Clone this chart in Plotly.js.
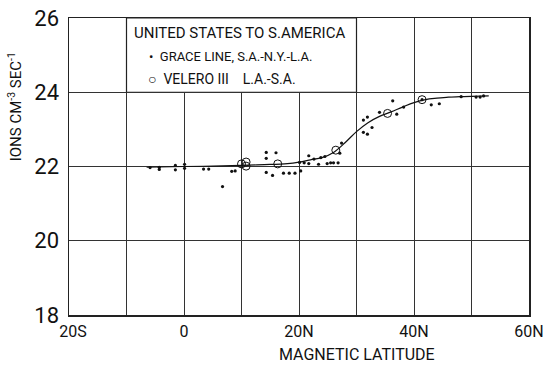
<!DOCTYPE html>
<html><head><meta charset="utf-8">
<script src="https://cdn.plot.ly/plotly-3.0.1.min.js"></script>
<style>html,body{margin:0;padding:0;background:#fff}#c{width:544px;height:366px}</style>
</head><body><div id="c"></div>
<script>
// Grace Line, S.A.-N.Y.-L.A. (small dots)
const graceLat = [-5.9,-4.3,-4.3,-1.5,-1.5,0.1,0.1,3.4,4.3,6.7,8.3,8.9,
  14.3,14.3,16.0,14.3,15.4,17.3,18.3,19.3,20.3,20.1,20.9,21.7,21.7,22.6,23.4,23.8,24.5,24.9,25.5,26.0,26.8,27.1,27.4,
  31.2,31.9,31.2,31.9,32.7,34.0,36.3,37.0,38.2,41.4,43.0,44.4,48.2,50.8,51.5,52.1];
const graceRate = [21.97,21.98,21.92,22.03,21.91,22.06,21.95,21.93,21.93,21.46,21.87,21.88,
  22.38,22.22,22.37,21.84,21.76,21.82,21.82,21.82,21.88,22.11,22.10,22.29,22.08,22.20,22.06,22.24,22.27,22.08,22.10,22.10,22.10,22.36,22.63,
  23.25,23.33,22.92,22.87,23.05,23.46,23.77,23.41,23.60,23.80,23.66,23.69,23.88,23.87,23.87,23.90];
// Velero III L.A.-S.A. (open circles)
const veleroLat = [10.0,10.8,10.8,16.3,26.4,35.4,41.4];
const veleroRate = [22.07,22.12,22.01,22.07,22.44,23.43,23.80];
// fitted curve
const curveLat = [-6.5,0,5,10,14,18,20,22,24,26,28,30,32,34,36,38,40,42,44,46,48,50,53];
const curveRate = [21.98,22.0,22.01,22.03,22.05,22.08,22.12,22.18,22.24,22.38,22.64,22.94,23.18,23.35,23.47,23.6,23.72,23.8,23.84,23.87,23.88,23.89,23.9];
// axis ticks
const xTickVals = [-20,-10,0,10,20,30,40,50,60];
const xTickText = ['\u00a0\u00a020S','','0','','20N','','40N','','60N'];
const yTickVals = [18,20,22,24,26];

const F = 'Roboto, "Liberation Sans", sans-serif';
const traces = [
  {x: curveLat, y: curveRate, mode: 'lines', line: {color: '#111', width: 1.2, shape: 'spline'}, hoverinfo: 'skip'},
  {x: graceLat, y: graceRate, mode: 'markers', marker: {color: '#111', size: 3.2}},
  {x: veleroLat, y: veleroRate, mode: 'markers', marker: {symbol: 'circle-open', color: '#111', size: 8, line: {width: 1}}}
];
const layout = {
  width: 544, height: 366,
  margin: {l: 69, r: 15, t: 18, b: 51},
  paper_bgcolor: '#fff', plot_bgcolor: '#fff',
  showlegend: false,
  font: {family: F, color: '#111'},
  xaxis: {range: [-20, 60], tickvals: xTickVals, ticktext: xTickText, showgrid: true, gridcolor: '#333', gridwidth: 1,
    zeroline: false, showline: true, linecolor: '#222', linewidth: 1.5, mirror: true, ticks: '',
    ticklabeloverflow: 'allow', ticklabelstandoff: 1,
    tickfont: {size: 16, family: F}, fixedrange: true},
  yaxis: {range: [18, 26], tickvals: yTickVals, showgrid: true, gridcolor: '#333', gridwidth: 1,
    zeroline: false, showline: true, linecolor: '#222', linewidth: 1.5, mirror: true, ticks: '',
    ticklabelstandoff: 4,
    tickfont: {size: 22, family: F}, fixedrange: true},
  shapes: [
    {type: 'rect', xref: 'x', yref: 'y', x0: -10, x1: 30, y0: 24, y1: 26, fillcolor: '#fff', line: {color: '#222', width: 1.2}, layer: 'above'}
  ],
  annotations: [
    {xref: 'paper', yref: 'paper', x: -0.117, y: 0.70, xanchor: 'center', yanchor: 'middle', text: 'IONS CM<sup>-3</sup> SEC<sup>-1</sup>', textangle: -90, showarrow: false, font: {size: 15, family: F}},
    {xref: 'x', yref: 'paper', x: 30, y: -0.132, yanchor: 'middle', text: 'MAGNETIC LATITUDE', showarrow: false, font: {size: 16, family: F}},
    {xref: 'x', yref: 'y', x: -9.0, y: 25.6, xanchor: 'left', text: 'UNITED STATES TO S.AMERICA', showarrow: false, font: {size: 15, family: F}},
    {xref: 'x', yref: 'y', x: -6.4, y: 24.95, xanchor: 'left', text: '•  GRACE LINE, S.A.-N.Y.-L.A.', showarrow: false, font: {size: 13, family: F}},
    {xref: 'x', yref: 'y', x: -6.6, y: 24.35, xanchor: 'left', text: '○  VELERO III    L.A.-S.A.', showarrow: false, font: {size: 14, family: F}}
  ]
};
Plotly.newPlot('c', traces, layout, {displayModeBar: false, staticPlot: true});
</script></body></html>
